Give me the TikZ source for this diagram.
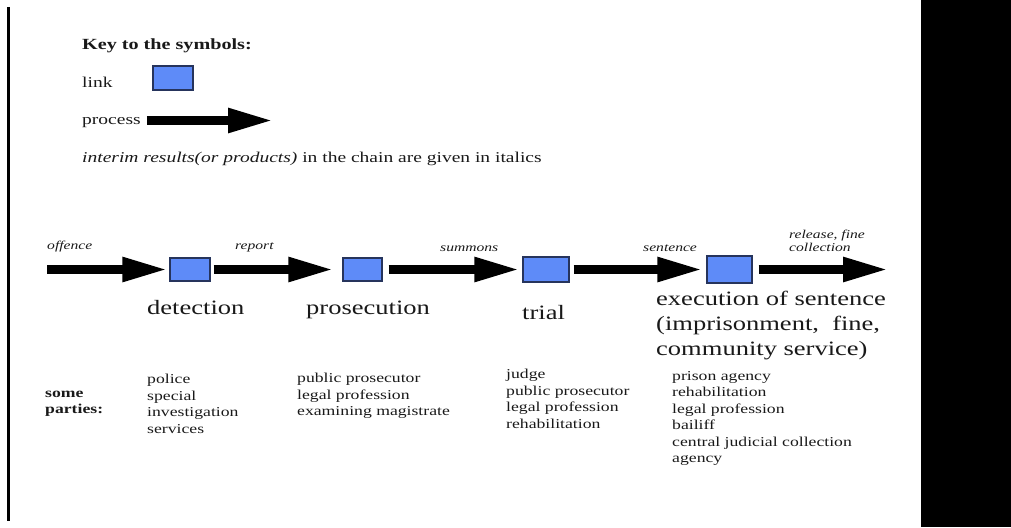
\documentclass[tikz,border=0pt]{standalone}
\usepackage{fontspec}
\setmainfont{Liberation Serif}[FakeStretch=1.3]
\usetikzlibrary{arrows.meta}
\definecolor{linkblue}{RGB}{94,139,248}
\definecolor{linkedge}{RGB}{38,52,92}
\definecolor{ink}{RGB}{25,25,25}
\tikzset{
  linkbox/.style={draw=linkedge, line width=1.3pt, fill=linkblue, inner sep=0pt},
  process/.style={line width=8.5pt, -{Triangle[length=45pt,width=23pt]}},
  keytext/.style={font=\fontsize{15}{17}\selectfont, text=ink, inner sep=0pt, anchor=base west},
  result/.style={font=\fontsize{12}{13}\selectfont\itshape, text=ink, inner sep=0pt, anchor=base west},
  stage/.style={font=\fontsize{20.4}{25}\selectfont, text=ink, inner sep=0pt, anchor=base west},
  partylist/.style={font=\fontsize{13.6}{16.5}\selectfont, text=ink, inner sep=0pt,
    anchor=north west, align=left, execute at begin node=\strut},
}
\begin{document}
\begin{tikzpicture}[x=1pt,y=-1pt]
  \useasboundingbox (0,0) rectangle (1011,527);
  \draw[line width=2.5pt] (8.5,7) -- (8.5,521);
  \fill (921,0) rectangle (1011,527);
  % key
  \draw
    (82,50) node[keytext, font=\fontsize{15.5}{17}\selectfont\bfseries] (key){Key to the symbols:}
    (82,87) node[keytext] (linktxt){link}
    (173,78) node[linkbox, minimum width=40pt, minimum height=24pt] (keylink){}
    (82,124) node[keytext] (proctxt){process}
    (82,162) node[keytext] (note){\textit{interim results(or products)} in the chain are given in italics};
  \coordinate (keytip) at (273,120.5);
  \draw[process] (proctxt.east |- keytip) ++(6,0) coordinate (keystart) (keystart) to (keytip);
  % chain
  \coordinate (start) at (47,269.5);
  \coordinate (finish) at (888,269.5);
  \draw
    (190,269.5) node[linkbox, minimum width=40pt, minimum height=23pt] (det){}
    (362.5,269.5) node[linkbox, minimum width=39pt, minimum height=23pt] (pros){}
    (546,269.5) node[linkbox, minimum width=46pt, minimum height=25pt] (trial){}
    (729.5,269.5) node[linkbox, minimum width=45pt, minimum height=27pt] (exec){};
  \begin{scope}[process]
    \draw[shorten >=2pt] (start) to (det);
    \draw[shorten <=3pt, shorten >=9pt] (det) to (pros);
    \draw[shorten <=6pt, shorten >=3pt] (pros) to (trial);
    \draw[shorten <=4pt, shorten >=4pt] (trial) to (exec);
    \draw[shorten <=6pt] (exec) to (finish);
  \end{scope}
  % interim results
  \draw
    (47,249.5) node[result] (offence){offence}
    (235,249.5) node[result] (report){report}
    (440,251) node[result] (summons){summons}
    (643,251) node[result] (sentence){sentence}
    (789,230) node[result, anchor=north west, align=left, execute at begin node=\strut] (release){release, fine\\collection};
  % stages
  \draw
    (147,314) node[stage] (dettxt){detection}
    (306,314) node[stage] (prostxt){prosecution}
    (522,319) node[stage] (trialtxt){trial}
    (656,291) node[stage, anchor=north west, align=left, execute at begin node=\strut] (exectxt){execution of sentence\\(imprisonment,\ \ fine,\\community service)};
  % parties
  \draw
    (45,391) node[partylist, font=\fontsize{13.6}{16}\selectfont\bfseries] (parties){some\\parties:}
    (147,374) node[partylist] (detlist){police\\special\\investigation\\services}
    (297,373) node[partylist] (proslist){public prosecutor\\legal profession\\examining magistrate}
    (506,369) node[partylist] (triallist){judge\\public prosecutor\\legal profession\\rehabilitation}
    (672,371) node[partylist] (execlist){prison agency\\rehabilitation\\legal profession\\bailiff\\central judicial collection\\agency};
\end{tikzpicture}
\end{document}
